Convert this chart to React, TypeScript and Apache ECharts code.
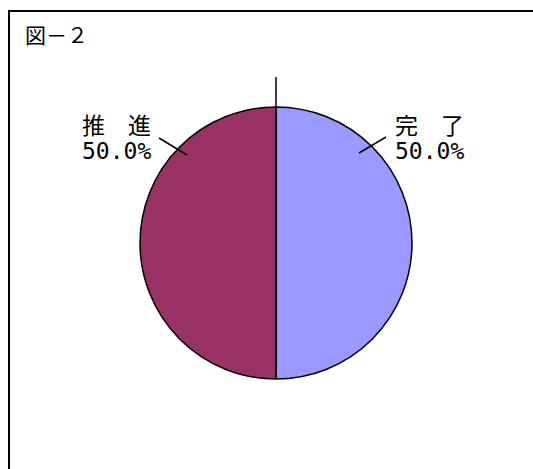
import React, { useEffect, useRef } from "react";
import * as echarts from "echarts";

const titleText = "図－２";
const categories = ["完　了", "推　進"];
const values = [50, 50];
const colors = ["#9999FF", "#993366"];

const W = 533;
const H = 469;
const CX = 276;
const CY = 243;
const R = 136;

// leader lines, offsets from pie centre: [start, end]
const leaders = [
  [[83, -90], [110, -106]],
  [[-89, -88], [-117, -105]],
];
const labelX = [CX + 119, CX - 194];
const labelY = CY - 105;

export default function App() {
  const ref = useRef<HTMLDivElement>(null);
  useEffect(() => {
    if (!ref.current) return;
    const chart = echarts.init(ref.current, undefined, { renderer: "svg" });
    const labelFont = '"DejaVu Sans Mono", "Noto Sans CJK JP", monospace';
    chart.setOption({
      animation: false,
      backgroundColor: "#ffffff",
      title: {
        text: titleText,
        left: 25,
        top: 25,
        padding: 0,
        textStyle: {
          fontSize: 21,
          fontWeight: "normal",
          color: "#000",
          fontFamily: '"Liberation Serif", "Noto Sans CJK JP", serif',
        },
      },
      graphic: [
        {
          type: "rect",
          shape: { x: 9, y: 11, width: 700, height: 700 },
          style: { fill: "none", stroke: "#000", lineWidth: 2 },
          silent: true,
        },
        {
          type: "line",
          shape: { x1: CX, y1: CY - R - 30, x2: CX, y2: CY - R },
          style: { stroke: "#000", lineWidth: 1.5 },
          silent: true,
        },
        ...leaders.map((l) => ({
          type: "line",
          z: 100,
          shape: {
            x1: CX + l[0][0],
            y1: CY + l[0][1],
            x2: CX + l[1][0],
            y2: CY + l[1][1],
          },
          style: { stroke: "#000", lineWidth: 1.5 },
          silent: true,
        })),
      ],
      series: [
        {
          type: "pie",
          center: [CX, CY],
          radius: R,
          startAngle: 90,
          clockwise: true,
          silent: true,
          emphasis: { disabled: true },
          itemStyle: { borderColor: "#000", borderWidth: 1.5 },
          label: {
            show: true,
            color: "#000",
            fontSize: 23,
            lineHeight: 25,
            overflow: "none",
            width: 120,
            fontFamily: labelFont,
            formatter: (p: any) => `${p.name}\n${p.percent.toFixed(1)}%`,
          },
          labelLine: { show: false },
          labelLayout: (p: any) => ({
            x: labelX[p.dataIndex],
            y: labelY,
            align: "left",
            verticalAlign: "middle",
          }),
          data: categories.map((name, i) => ({
            name,
            value: values[i],
            itemStyle: { color: colors[i] },
          })),
        },
      ],
    });
    return () => chart.dispose();
  }, []);
  return (
    <div
      ref={ref}
      style={{ position: "fixed", left: 0, top: 0, width: W, height: H }}
    />
  );
}
